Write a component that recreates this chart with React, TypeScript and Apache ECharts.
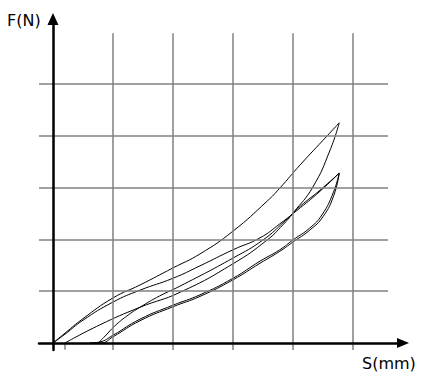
import React, { useEffect, useRef } from 'react';
import * as echarts from 'echarts';

// S (mm) vs F (N) hysteresis curves
const loadA = [[0, 0], [0.2, 0.19], [0.5, 0.47], [1.0, 0.87], [1.45, 1.12], [2.0, 1.45], [2.45, 1.72], [3.0, 2.16], [3.57, 2.74], [3.78, 2.99], [4.12, 3.44], [4.57, 4.0], [4.77, 4.25]];
const unloadA = [[4.77, 4.25], [4.62, 3.73], [4.33, 3.01], [4.0, 2.51], [3.83, 2.28], [3.57, 1.99], [3.0, 1.53], [2.12, 0.98], [1.45, 0.69], [0.78, 0.35], [0.2, 0]];
const loadB = [[0, 0], [0.2, 0.17], [0.5, 0.44], [1.0, 0.79], [1.45, 1.02], [2.0, 1.25], [2.45, 1.49], [3.0, 1.8], [3.45, 2.03], [3.78, 2.3], [4.12, 2.61], [4.45, 2.93], [4.77, 3.28]];
const cycleC = [[0.75, 0], [0.87, 0.135], [1.03, 0.33], [1.23, 0.52], [1.45, 0.69], [1.78, 0.91], [2.12, 1.1], [3.0, 1.64], [3.5, 1.99], [3.87, 2.36], [4.12, 2.64], [4.45, 2.95], [4.77, 3.28]];
const lowerB1 = [[0.617, 0], [0.78, 0.02], [1.0, 0.15], [1.45, 0.46], [2.0, 0.73], [2.45, 0.93], [3.0, 1.25], [3.45, 1.58], [3.78, 1.8], [4.0, 1.99], [4.28, 2.22], [4.48, 2.47], [4.67, 2.9], [4.77, 3.28]];
const lowerB2 = [[0.617, 0], [0.8, 0.0], [1.0, 0.12], [1.45, 0.43], [2.0, 0.7], [2.45, 0.9], [3.0, 1.22], [3.45, 1.54], [3.78, 1.77], [4.0, 1.95], [4.28, 2.18], [4.5, 2.44], [4.68, 2.85], [4.77, 3.28]];
const startTick = [[0.2, 0], [0.2, -0.13]];

// grid lines
const gridXs = [1, 2, 3, 4, 5];
const gridYs = [1, 2, 3, 4, 5];
const xRange = [-0.233, 5.833];
const yRange = [-0.135, 6.255];
const hLineSpan = [-0.233, 5.583];
const vLineSpan = [-0.135, 5.98];

const xName = 'S(mm)';
const yName = 'F(N)';

export default function App() {
  const ref = useRef<HTMLDivElement>(null);
  useEffect(() => {
    if (!ref.current) return;
    const chart = echarts.init(ref.current, null, { renderer: 'svg' });
    const curve = (name: string, data: number[][]) => ({
      name,
      type: 'line',
      data,
      smooth: 0.5,
      showSymbol: false,
      silent: true,
      z: 3,
      lineStyle: { color: '#000', width: 1 },
    });
    const gridMarks = [
      ...gridXs.map((x) => [{ coord: [x, vLineSpan[0]] }, { coord: [x, vLineSpan[1]] }]),
      ...gridYs.map((y) => [{ coord: [hLineSpan[0], y] }, { coord: [hLineSpan[1], y] }]),
    ];
    chart.setOption({
      animation: false,
      backgroundColor: '#fff',
      title: [
        { text: yName, left: 7, top: 12, padding: 0, textStyle: { fontSize: 16, fontWeight: 'normal', color: '#000', fontFamily: 'DejaVu Sans' } },
        { text: xName, left: 362, top: 355, padding: 0, textStyle: { fontSize: 16, fontWeight: 'normal', color: '#000', fontFamily: 'DejaVu Sans' } },
      ],
      grid: { left: 39, right: 22, top: 19, bottom: 28 },
      xAxis: {
        type: 'value', min: xRange[0], max: xRange[1], z: 5,
        axisLine: { show: true, onZero: true, symbol: ['none', 'triangle'], symbolSize: [10, 12], lineStyle: { color: '#000', width: 2.5 } },
        axisTick: { show: false }, axisLabel: { show: false }, splitLine: { show: false },
      },
      yAxis: {
        type: 'value', min: yRange[0], max: yRange[1], z: 5,
        axisLine: { show: true, onZero: true, symbol: ['none', 'triangle'], symbolSize: [11, 12], lineStyle: { color: '#000', width: 2.5 } },
        axisTick: { show: false }, axisLabel: { show: false }, splitLine: { show: false },
      },
      series: [
        {
          type: 'line', data: [], silent: true, z: 1,
          markLine: {
            silent: true, symbol: 'none', animation: false,
            label: { show: false },
            lineStyle: { color: '#808080', width: 1.5, type: 'solid' },
            emphasis: { disabled: true },
            data: gridMarks,
          },
        },
        {
          type: 'line', data: startTick, showSymbol: false, silent: true, z: 2,
          lineStyle: { color: '#a0a0a0', width: 2 },
        },
        curve('loadA', loadA),
        curve('unloadA', unloadA),
        curve('loadB', loadB),
        curve('cycleC', cycleC),
        curve('lowerB1', lowerB1),
        curve('lowerB2', lowerB2),
      ],
    });
    return () => chart.dispose();
  }, []);
  return <div ref={ref} style={{ position: 'absolute', left: 0, top: 0, width: 425, height: 378 }} />;
}
